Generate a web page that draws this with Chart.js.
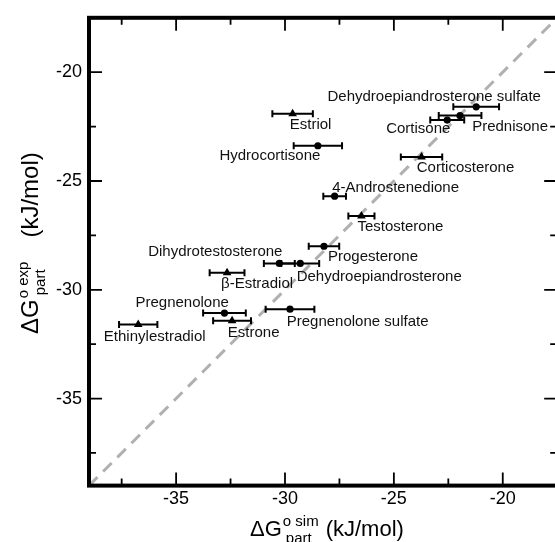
<!DOCTYPE html>
<html>
<head>
<meta charset="utf-8">
<title>Partition free energy: simulation vs experiment</title>
<style>
  html, body { margin: 0; padding: 0; background: #fff; overflow: hidden; }
  #wrap { width: 555px; height: 542px; overflow: hidden; }
</style>
<script src="https://cdn.jsdelivr.net/npm/chart.js@4.4.0/dist/chart.umd.min.js"></script>
</head>
<body>
<div id="wrap"><canvas id="chart" width="580" height="542"></canvas></div>
<script>
// steroid names, in drawing order
const names = [
    "Estriol", "Hydrocortisone", "Dehydroepiandrosterone sulfate", "Prednisone",
    "Cortisone", "Corticosterone", "4-Androstenedione", "Testosterone",
    "Progesterone", "Dihydrotestosterone", "Dehydroepiandrosterone",
    "Pregnenolone sulfate", "β-Estradiol", "Pregnenolone", "Estrone", "Ethinylestradiol"
];
// simulated dG (x), its error, experimental dG (y), kJ/mol
const simDG = [-29.65, -28.49, -21.22, -21.96, -22.55, -23.73, -27.72, -26.49,
               -28.21, -30.26, -29.30, -29.77, -32.66, -32.78, -32.43, -36.74];
const simErr = [0.93, 1.11, 1.05, 0.98, 0.78, 0.95, 0.52, 0.60,
                0.70, 0.71, 0.87, 1.12, 0.80, 0.98, 0.87, 0.88];
const expDG = [-21.91, -23.38, -21.59, -21.99, -22.20, -23.90, -25.70, -26.61,
               -28.00, -28.79, -28.79, -30.89, -29.22, -31.07, -31.42, -31.60];
const markerType = ["triangle", "circle", "circle", "circle", "circle", "triangle", "circle", "triangle",
                    "circle", "circle", "circle", "circle", "triangle", "circle", "triangle", "triangle"];
const majorTicks = [-35, -30, -25, -20];
const minorTicks = [-37.5, -32.5, -27.5, -22.5];
const diagonal = [-39, -17.5];

// where each name sits relative to its point (px, text centre)
const labelShift = [
    [18, 11.5], [-48, 10.5], [-42, -10], [50, 11.4],
    [-29, 8.3], [44, 10.7], [61, -8.7], [39, 10.7],
    [49, 10.4], [-64, -11.7], [79, 13.3], [67.6, 12.7],
    [30, 11.3], [-42.3, -10.6], [21.6, 11.7], [16.5, 12]
];

const FONT = "'Liberation Sans', Arial, Helvetica, sans-serif";
Chart.defaults.font.family = FONT;
Chart.defaults.color = "#000";

function drawTitle(ctx, x0, y0, sup, size, gap) {
    // ΔG with stacked super/subscript, then units
    ctx.textAlign = "left";
    ctx.textBaseline = "alphabetic";
    ctx.font = size + "px " + FONT;
    ctx.fillText("ΔG", x0, y0);
    let x = x0 + ctx.measureText("ΔG").width + 1;
    ctx.font = "15px " + FONT;
    ctx.fillText(sup, x, y0 - 10);
    ctx.fillText("part", x + 3, y0 + 7);
    x += Math.max(ctx.measureText(sup).width, ctx.measureText("part").width + 3) + gap;
    ctx.font = size + "px " + FONT;
    ctx.fillText("(kJ/mol)", x, y0);
}

const decor = {
    id: "decor",
    afterDatasetsDraw(chart) {
        const { ctx, scales: { x, y } } = chart;
        ctx.save();
        ctx.strokeStyle = "#000";
        ctx.lineWidth = 2;
        simDG.forEach((v, i) => {
            const py = y.getPixelForValue(expDG[i]);
            const x0 = x.getPixelForValue(v - simErr[i]);
            const x1 = x.getPixelForValue(v + simErr[i]);
            ctx.beginPath();
            ctx.moveTo(x0, py); ctx.lineTo(x1, py);
            ctx.moveTo(x0, py - 3.5); ctx.lineTo(x0, py + 3.5);
            ctx.moveTo(x1, py - 3.5); ctx.lineTo(x1, py + 3.5);
            ctx.stroke();
        });
        ctx.fillStyle = "#111";
        ctx.font = "15px " + FONT;
        ctx.textAlign = "center";
        ctx.textBaseline = "middle";
        names.forEach((n, i) => {
            const px = x.getPixelForValue(simDG[i]) + labelShift[i][0];
            const py = y.getPixelForValue(expDG[i]) + labelShift[i][1];
            ctx.fillText(n, px, py);
        });
        ctx.restore();
    },
    afterDraw(chart) {
        const { ctx, chartArea: a, scales: { x, y } } = chart;
        ctx.save();
        // inward ticks on all four sides
        ctx.strokeStyle = "#000";
        ctx.lineWidth = 1.8;
        const tick = (v, len) => {
            const px = x.getPixelForValue(v);
            const py = y.getPixelForValue(v);
            ctx.beginPath();
            ctx.moveTo(px, a.bottom); ctx.lineTo(px, a.bottom - len);
            ctx.moveTo(px, a.top); ctx.lineTo(px, a.top + len);
            ctx.moveTo(a.left, py); ctx.lineTo(a.left + len, py);
            ctx.moveTo(a.right, py); ctx.lineTo(a.right - len, py);
            ctx.stroke();
        };
        majorTicks.forEach(v => tick(v, 13));
        minorTicks.forEach(v => tick(v, 7));
        // thick frame
        ctx.lineWidth = 4;
        ctx.strokeRect(a.left, a.top, a.right - a.left, a.bottom - a.top);

        ctx.fillStyle = "#000";
        drawTitle(ctx, 250, 536, "o sim", 22, 7);
        ctx.translate(38, 334);
        ctx.rotate(-Math.PI / 2);
        drawTitle(ctx, 0, 0, "o exp", 24, 24);
        ctx.restore();
    }
};

const ctx = document.getElementById("chart").getContext("2d");

const options = {
    type: "scatter",
    data: {
        datasets: [
            {
                data: simDG.map((v, i) => ({ x: v, y: expDG[i] })),
                pointStyle: markerType,
                pointRadius: markerType.map(m => (m === "triangle" ? 5 : 3.6)),
                backgroundColor: "#000",
                borderColor: "#000",
                borderWidth: 0,
                order: 1
            },
            {
                type: "line",
                data: diagonal.map(v => ({ x: v, y: v })),
                borderColor: "#b0b0b0",
                borderWidth: 3,
                borderDash: [12, 8],
                pointRadius: 0,
                order: 3
            }
        ]
    },
    options: {
        responsive: false,
        animation: false,
        devicePixelRatio: 1,
        layout: { padding: { top: 16.5, right: 22.8, left: 0, bottom: 0 } },
        plugins: { legend: { display: false }, tooltip: { enabled: false } },
        scales: {
            x: {
                type: "linear",
                min: diagonal[0],
                max: diagonal[1],
                grid: { display: false, drawTicks: false },
                border: { display: false },
                ticks: { font: { size: 18 }, color: "#000", padding: 3 },
                afterBuildTicks: s => { s.ticks = majorTicks.map(v => ({ value: v })); },
                afterFit: s => { s.height = 56.4; }
            },
            y: {
                type: "linear",
                min: diagonal[0],
                max: diagonal[1],
                grid: { display: false, drawTicks: false },
                border: { display: false },
                ticks: { font: { size: 18 }, color: "#000", padding: 7 },
                afterBuildTicks: s => { s.ticks = majorTicks.map(v => ({ value: v })); },
                afterFit: s => { s.width = 89; }
            }
        }
    },
    plugins: [decor]
};

// eslint-disable-next-line no-unused-vars
let chart = new Chart(ctx, options);
</script>
</body>
</html>
